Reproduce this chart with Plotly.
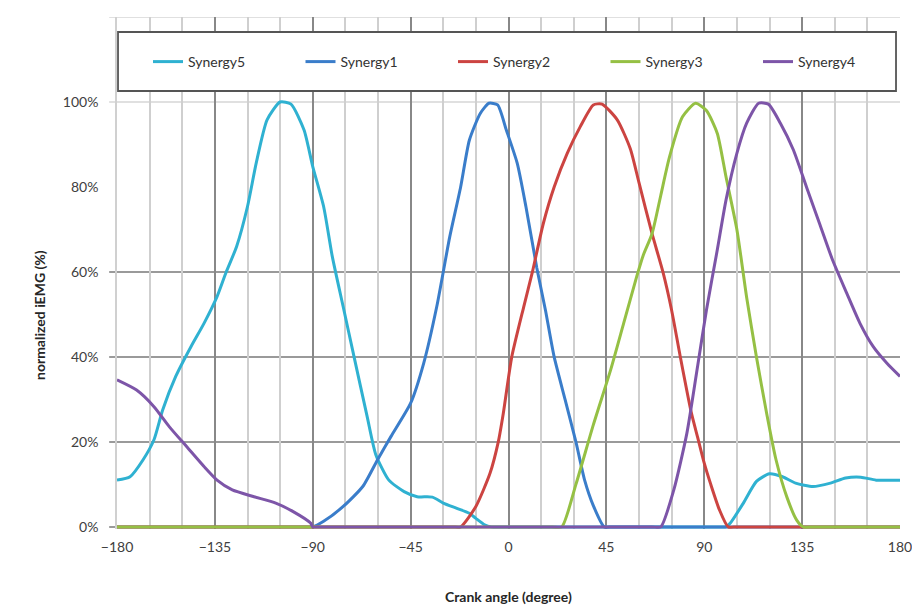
import plotly.graph_objects as go

# ---- data ----
syn5_angle = [-180, -174, -168, -163, -159, -153, -146, -140, -134, -130, -125, -120, -116, -111, -105, -100,
              -94, -90, -85, -81, -76, -71, -65, -61, -55, -48, -42, -35, -30, -24, -18, -15, -11, -8, -4,
              96, 100, 102, 108, 114, 120, 126, 132, 140, 148, 155, 162, 169, 180]
syn5_value = [11, 11.8, 15.8, 20.5, 27.5, 35.4, 42.4, 47.9, 54.2, 59.7, 66, 75.4, 85.6, 95.8, 100, 99.5,
              93.4, 84.8, 75.4, 63.6, 51.8, 40, 26, 17, 11, 8.3, 7.1, 7, 5.6, 4.4, 3.2, 2, 0.5, 0, 0,
              0, 0, 0.9, 5.6, 10.7, 12.5, 11.8, 10.3, 9.5, 10.3, 11.5, 11.7, 11, 11]

syn1_angle = [-180, -94, -90, -85, -76, -67, -60, -54, -45, -39, -33, -27, -22, -18, -13, -9, -5, -1, 4, 8,
              13, 17, 21, 26, 31, 35, 39, 44, 48, 180]
syn1_value = [0, 0, 0, 1.3, 4.8, 9.5, 16, 21.3, 29.1, 38.5, 51.8, 68.3, 80, 91, 97.3, 99.7, 99.3, 93.4, 85.6,
              75.4, 61, 51, 40, 30, 20, 11, 5, 0, 0, 0]

syn2_angle = [-180, -26, -22, -15, -8.5, -4.7, -2.4, 1.5, 7, 11, 16, 21, 27, 33, 39, 43, 50, 56, 60, 66, 71,
              75, 79, 84, 87, 90, 93, 97, 101, 105, 180]
syn2_value = [0, 0, 0, 4.8, 12.6, 20, 26.7, 40, 51.8, 60, 71.4, 80, 87.9, 94.2, 99.3, 99.5, 95.8, 89, 81, 69,
              60, 51, 40, 27, 21, 15, 10, 4, 0, 0, 0]

syn3_angle = [-180, 20, 24.5, 31, 39, 47, 53, 59, 62, 66, 70, 74, 80, 86, 91, 96, 100, 105, 109.5, 114, 118.7,
              123, 128, 132.5, 135.5, 140, 180]
syn3_value = [0, 0, 0, 10, 24, 37, 48, 59, 64, 69, 78, 87, 96.5, 99.7, 98, 92.6, 82.4, 70, 54, 40, 26.7,
              15.8, 7, 1.6, 0, 0, 0]

syn4_angle = [-180, -171, -163, -156, -148, -140, -134, -127, -117, -107, -99, -91, -90, -86, 66, 70, 76, 82,
              87, 91, 96, 100, 105, 109.5, 115, 119.5, 125, 131, 137, 143, 149, 155.5, 161.6, 167.7, 174, 180]
syn4_value = [34.6, 32.2, 28.3, 23.6, 18.9, 14.2, 11, 8.7, 7.1, 5.6, 3.6, 0.9, 0, 0, 0, 0, 8.7, 22,
              38, 51, 65.2, 76.9, 87.9, 95, 99.7, 99.5, 95, 88.7, 80, 71.4, 62.8, 55, 47.9, 42.4, 38.5, 35.4]

series_names = ["Synergy5", "Synergy1", "Synergy2", "Synergy3", "Synergy4"]
series_colors = ["#2fb1d1", "#3a7dca", "#cc4441", "#95c044", "#7d55a8"]
x_ticks = [-180, -135, -90, -45, 0, 45, 90, 135, 180]
y_ticks = [0, 20, 40, 60, 80, 100, 120]
y_ticktext = ["0%", "20%", "40%", "60%", "80%", "100%", "120%"]
grid_dark_levels = [0, 20, 40, 60]
grid_light_levels = [100, 120]

series = [(syn5_angle, syn5_value), (syn1_angle, syn1_value), (syn2_angle, syn2_value),
          (syn3_angle, syn3_value), (syn4_angle, syn4_value)]

fig = go.Figure()
for (ang, val), name, col in zip(series, series_names, series_colors):
    fig.add_trace(go.Scatter(x=ang, y=val, name=name, mode="lines",
                             line=dict(color=col, width=3, shape="spline", smoothing=0.6)))

shapes = []
for lv in grid_dark_levels:
    shapes.append(dict(type="line", xref="paper", yref="y", x0=-0.01, x1=1, y0=lv, y1=lv,
                       line=dict(color="#9a9a9a", width=2), layer="below"))
for lv in grid_light_levels:
    shapes.append(dict(type="line", xref="paper", yref="y", x0=-0.01, x1=1, y0=lv, y1=lv,
                       line=dict(color="#d6d6d6", width=1.5), layer="below"))
# legend frame
shapes.append(dict(type="rect", xref="paper", yref="paper", x0=0.0013, x1=0.9949, y0=0.8555, y1=0.9707,
                   line=dict(color="#555555", width=1.8), fillcolor="white", layer="above"))

# page body has an 8px margin, so the figure is drawn 8px smaller and offset-compensated
fig.update_layout(
    width=912, height=600,
    margin=dict(l=109, r=20, t=9, b=79, pad=0),
    paper_bgcolor="white", plot_bgcolor="white",
    font=dict(family="Lato, Open Sans, sans-serif", size=14, color="#404040"),
    shapes=shapes,
    showlegend=True,
    legend=dict(orientation="h", x=0, xanchor="left", y=0.9121, yanchor="middle",
                indentation=31,
                bgcolor="rgba(0,0,0,0)", borderwidth=0, entrywidth=76.5, entrywidthmode="pixels",
                font=dict(size=14, color="#333333"), traceorder="normal"),
    annotations=[
        dict(text="<b>Crank angle (degree)</b>", xref="paper", yref="paper", x=0.5, y=-0.1328,
             xanchor="center", yanchor="middle", showarrow=False, font=dict(size=14, color="#262626")),
        dict(text="<b>normalized iEMG (%)</b>", xref="paper", yref="paper", x=-0.0983, y=0.418,
             xanchor="center", yanchor="middle", textangle=-90, showarrow=False,
             font=dict(size=14, color="#262626")),
    ],
)
fig.update_xaxes(range=[-180, 180], tickvals=x_ticks, showgrid=True, gridcolor="#888888", gridwidth=2,
                 minor=dict(tick0=-180, dtick=15, showgrid=True, gridcolor="#cfcfcf", gridwidth=1.5),
                 zeroline=False, showline=False, ticks="", ticklabelstandoff=8)
fig.update_yaxes(range=[-0.5, 120], tickvals=y_ticks, ticktext=y_ticktext, showgrid=False, zeroline=False,
                 showline=True, linecolor="#d0d0d0", linewidth=1.5, ticks="", ticklabelstandoff=14)

fig.write_html("out.html")
